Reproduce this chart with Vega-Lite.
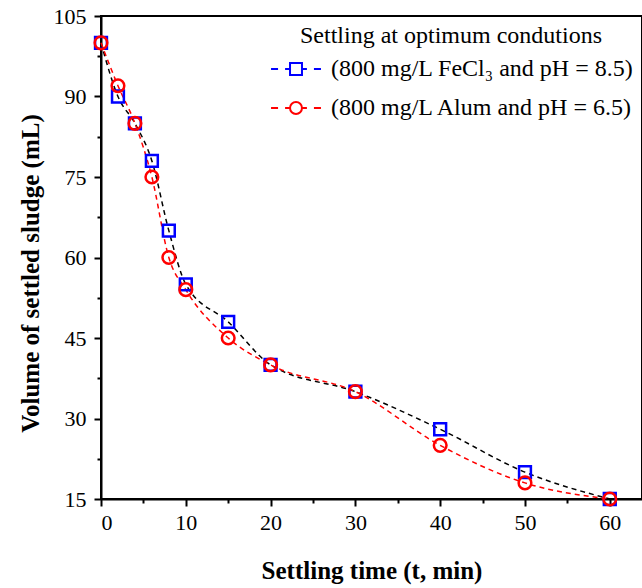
{
  "$schema": "https://vega.github.io/schema/vega-lite/v6.json",
  "width": 541,
  "height": 483,
  "autosize": {"type": "none"},
  "padding": {"left": 101, "top": 16, "right": 0, "bottom": 89},
  "background": "white",
  "config": {
    "view": {"stroke": "black", "strokeWidth": 2},
    "font": "Liberation Serif",
    "axis": {
      "labelFont": "Liberation Serif",
      "titleFont": "Liberation Serif",
      "labelFontSize": 22,
      "titleFontSize": 25,
      "labelColor": "black",
      "titleColor": "black",
      "domainColor": "black",
      "tickColor": "black",
      "domainWidth": 2,
      "tickWidth": 2,
      "grid": false
    },
    "legend": {
      "labelFont": "Liberation Serif",
      "titleFont": "Liberation Serif",
      "orient": "top-right",
      "offset": 8,
      "titleFontSize": 24,
      "titleFontWeight": "normal",
      "titleColor": "black",
      "titleAnchor": "middle",
      "titleLimit": 500,
      "titlePadding": -6,
      "labelFontSize": 24,
      "labelColor": "black",
      "labelLimit": 500,
      "labelOffset": 8,
      "symbolSize": 2704,
      "symbolStrokeWidth": 2,
      "symbolFillColor": "transparent",
      "symbolOpacity": 1,
      "rowPadding": -1
    }
  },
  "data": {
    "values": [
      {"t": 0, "v": 100, "series": "(800 mg/L FeCl₃ and pH = 8.5)"},
      {"t": 2, "v": 90, "series": "(800 mg/L FeCl₃ and pH = 8.5)"},
      {"t": 4, "v": 85, "series": "(800 mg/L FeCl₃ and pH = 8.5)"},
      {"t": 6, "v": 78, "series": "(800 mg/L FeCl₃ and pH = 8.5)"},
      {"t": 8, "v": 65, "series": "(800 mg/L FeCl₃ and pH = 8.5)"},
      {"t": 10, "v": 55, "series": "(800 mg/L FeCl₃ and pH = 8.5)"},
      {"t": 15, "v": 48, "series": "(800 mg/L FeCl₃ and pH = 8.5)"},
      {"t": 20, "v": 40, "series": "(800 mg/L FeCl₃ and pH = 8.5)"},
      {"t": 30, "v": 35, "series": "(800 mg/L FeCl₃ and pH = 8.5)"},
      {"t": 40, "v": 28, "series": "(800 mg/L FeCl₃ and pH = 8.5)"},
      {"t": 50, "v": 20, "series": "(800 mg/L FeCl₃ and pH = 8.5)"},
      {"t": 60, "v": 15, "series": "(800 mg/L FeCl₃ and pH = 8.5)"},
      {"t": 0, "v": 100, "series": "(800 mg/L Alum and pH = 6.5)"},
      {"t": 2, "v": 92, "series": "(800 mg/L Alum and pH = 6.5)"},
      {"t": 4, "v": 85, "series": "(800 mg/L Alum and pH = 6.5)"},
      {"t": 6, "v": 75, "series": "(800 mg/L Alum and pH = 6.5)"},
      {"t": 8, "v": 60, "series": "(800 mg/L Alum and pH = 6.5)"},
      {"t": 10, "v": 54, "series": "(800 mg/L Alum and pH = 6.5)"},
      {"t": 15, "v": 45, "series": "(800 mg/L Alum and pH = 6.5)"},
      {"t": 20, "v": 40, "series": "(800 mg/L Alum and pH = 6.5)"},
      {"t": 30, "v": 35, "series": "(800 mg/L Alum and pH = 6.5)"},
      {"t": 40, "v": 25, "series": "(800 mg/L Alum and pH = 6.5)"},
      {"t": 50, "v": 18, "series": "(800 mg/L Alum and pH = 6.5)"},
      {"t": 60, "v": 15, "series": "(800 mg/L Alum and pH = 6.5)"}
    ]
  },
  "layer": [
    {
      "transform": [{"filter": "datum.series === '(800 mg/L FeCl₃ and pH = 8.5)'"}],
      "mark": {"type": "line", "color": "black", "strokeWidth": 1.5, "strokeDash": [5, 4], "interpolate": "monotone"},
      "encoding": {
        "x": {"field": "t", "type": "quantitative", "scale": {"domain": [0, 63.8], "nice": false, "zero": false},
          "axis": {"orient": "bottom", "values": [0, 10, 20, 30, 40, 50, 60], "title": "Settling time (t, min)", "titleFontWeight": "bold", "labelFont": "Liberation Serif", "titleFont": "Liberation Serif", "tickSize": 7, "labelPadding": 6, "titlePadding": 25}},
        "y": {"field": "v", "type": "quantitative", "scale": {"domain": [15, 105], "nice": false, "zero": false},
          "axis": {"orient": "left", "values": [15, 30, 45, 60, 75, 90, 105], "title": "Volume of settled sludge (mL)", "titleFontWeight": "bold", "labelFont": "Liberation Serif", "titleFont": "Liberation Serif", "tickSize": 7, "labelPadding": 8, "titlePadding": 10, "titleY": 257}}
      }
    },
    {
      "transform": [{"filter": "datum.series === '(800 mg/L Alum and pH = 6.5)'"}],
      "mark": {"type": "line", "color": "red", "strokeWidth": 1.5, "strokeDash": [5, 4], "interpolate": "monotone"},
      "encoding": {
        "x": {"field": "t", "type": "quantitative", "axis": {"orient": "bottom", "values": [5, 15, 25, 35, 45, 55], "labels": false, "title": null, "tickSize": 4, "domain": false}},
        "y": {"field": "v", "type": "quantitative", "axis": {"orient": "left", "values": [22.5, 37.5, 52.5, 67.5, 82.5, 97.5], "labels": false, "title": null, "tickSize": 4, "domain": false}}
      }
    },
    {
      "transform": [{"filter": "datum.series === '(800 mg/L FeCl₃ and pH = 8.5)'"}],
      "mark": {"type": "point", "shape": "square", "filled": false, "color": "#0000ff", "strokeWidth": 2.5, "size": 140, "opacity": 1},
      "encoding": {
        "x": {"field": "t", "type": "quantitative", "axis": null},
        "y": {"field": "v", "type": "quantitative", "axis": null}
      }
    },
    {
      "transform": [{"filter": "datum.series === '(800 mg/L Alum and pH = 6.5)'"}],
      "mark": {"type": "point", "shape": "circle", "filled": false, "color": "#ff0000", "strokeWidth": 2.5, "size": 160, "opacity": 1},
      "encoding": {
        "x": {"field": "t", "type": "quantitative", "axis": null},
        "y": {"field": "v", "type": "quantitative", "axis": null}
      }
    },
    {
      "mark": {"type": "point", "filled": false, "opacity": 0},
      "encoding": {
        "x": {"field": "t", "type": "quantitative", "axis": null},
        "y": {"field": "v", "type": "quantitative", "axis": null},
        "shape": {"field": "series", "type": "nominal", "sort": null, "scale": {"domain": ["(800 mg/L FeCl₃ and pH = 8.5)", "(800 mg/L Alum and pH = 6.5)"], "range": ["M-0.96,0H-0.69M-0.42,0H-0.23M-0.23,-0.23H0.23V0.23H-0.23ZM0.23,0H0.42M0.69,0H0.96", "M-0.96,0H-0.69M-0.42,0H-0.23M-0.23,0A0.23,0.23 0 1,1 0.23,0A0.23,0.23 0 1,1 -0.23,0ZM0.23,0H0.42M0.69,0H0.96"]},
          "legend": {"title": "Settling at optimum condutions"}},
        "stroke": {"field": "series", "type": "nominal", "sort": null, "scale": {"domain": ["(800 mg/L FeCl₃ and pH = 8.5)", "(800 mg/L Alum and pH = 6.5)"], "range": ["#0000ff", "#ff0000"]},
          "legend": {"title": "Settling at optimum condutions"}}
      }
    }
  ],
  "resolve": {"axis": {"x": "independent", "y": "independent"}}
}
